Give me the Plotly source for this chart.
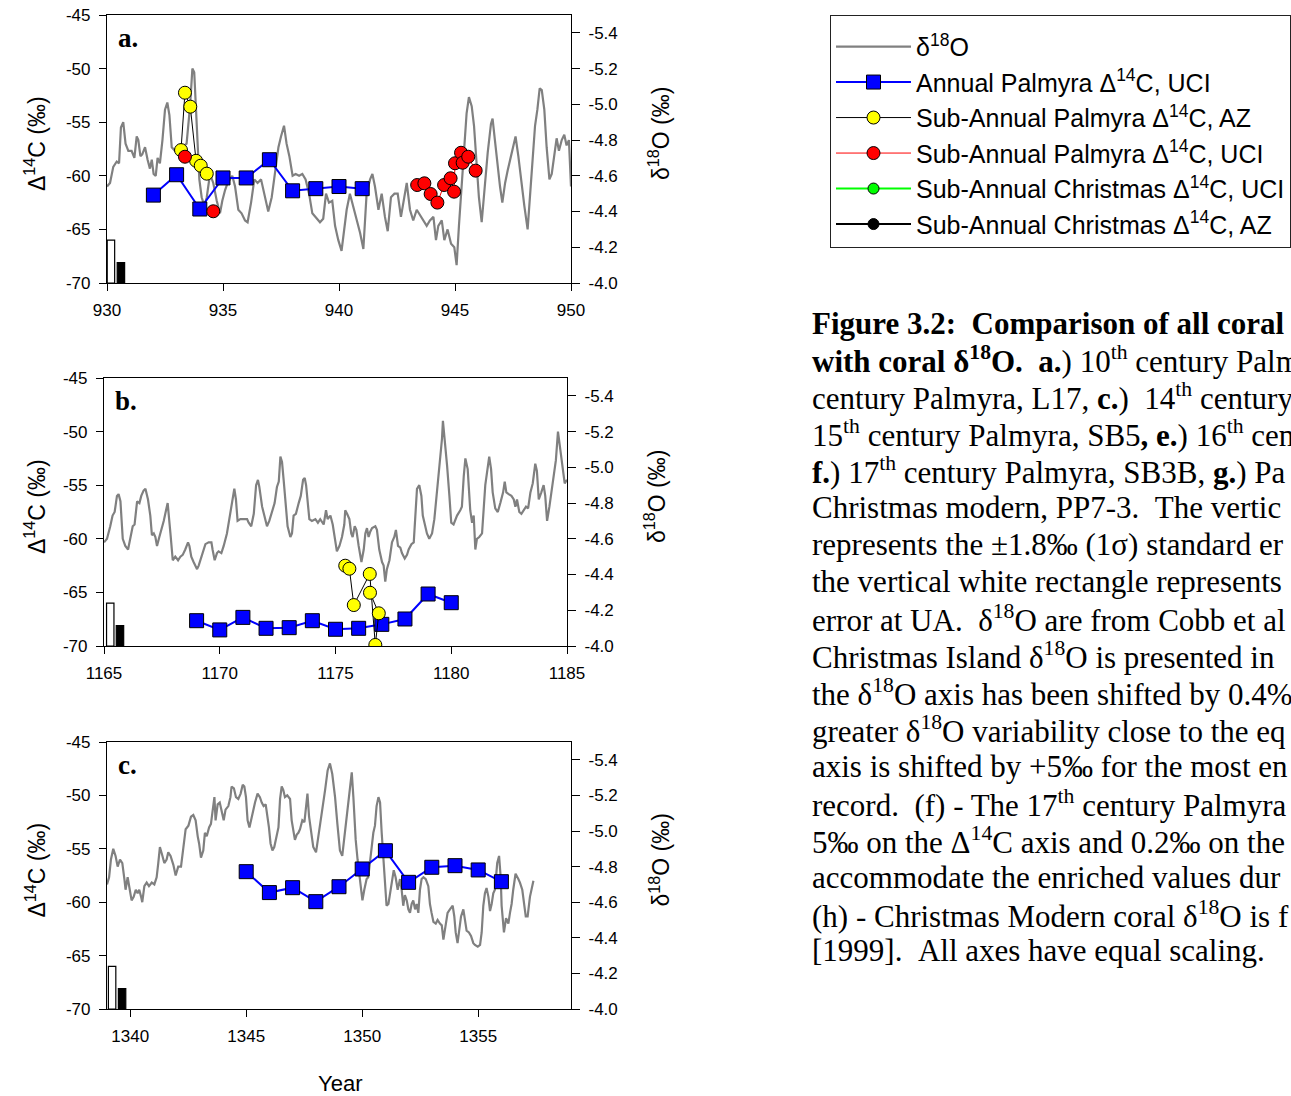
import plotly.graph_objects as go

# ---------------- Panel a: 10th century Palmyra ----------------
a_d18o_year = [930.00, 930.13, 930.27, 930.42, 930.52, 930.60, 930.70, 930.80, 930.92, 931.06,
               931.18, 931.28, 931.35, 931.44, 931.52, 931.64, 931.75, 931.85, 931.93, 932.01,
               932.10, 932.18, 932.28, 932.39, 932.50, 932.60, 932.69, 932.79, 932.93, 933.07,
               933.25, 933.43, 933.58, 933.68, 933.76, 933.86, 933.98, 934.08, 934.20, 934.30,
               934.44, 934.58, 934.73, 934.87, 934.97, 935.09, 935.20, 935.30, 935.40, 935.52,
               935.66, 935.80, 935.95, 936.06, 936.21, 936.35, 936.49, 936.64, 936.78, 936.95,
               937.10, 937.24, 937.39, 937.50, 937.63, 937.74, 937.86, 938.00, 938.13, 938.28,
               938.42, 938.56, 938.71, 938.85, 939.00, 939.18, 939.32, 939.44, 939.57, 939.71,
               939.83, 939.97, 940.11, 940.23, 940.33, 940.47, 940.62, 940.76, 940.91, 941.05,
               941.19, 941.34, 941.44, 941.55, 941.70, 941.84, 941.98, 942.10, 942.24, 942.39,
               942.53, 942.67, 942.82, 942.92, 943.06, 943.20, 943.35, 943.49, 943.64, 943.78,
               943.92, 944.07, 944.18, 944.28, 944.43, 944.54, 944.68, 944.83, 944.97, 945.07,
               945.17, 945.29, 945.40, 945.50, 945.60, 945.72, 945.82, 945.93, 946.03, 946.15,
               946.26, 946.41, 946.55, 946.62, 946.72, 946.84, 946.94, 947.04, 947.16, 947.27,
               947.37, 947.51, 947.61, 947.73, 947.84, 947.99, 948.13, 948.23, 948.33, 948.45,
               948.55, 948.65, 948.74, 948.85, 948.95, 949.07, 949.17, 949.28, 949.38, 949.48,
               949.60, 949.71, 949.81, 949.91, 950.00]
a_d18o = [-4.54, -4.56, -4.65, -4.68, -4.67, -4.87, -4.90, -4.78, -4.74, -4.74,
          -4.70, -4.82, -4.80, -4.71, -4.72, -4.76, -4.69, -4.64, -4.69, -4.61,
          -4.60, -4.70, -4.67, -4.80, -4.97, -5.01, -4.94, -4.76, -4.74, -4.74,
          -4.76, -4.78, -4.99, -5.20, -5.18, -4.89, -4.58, -4.48, -4.43, -4.48,
          -4.61, -4.56, -4.46, -4.39, -4.46, -4.52, -4.56, -4.58, -4.60, -4.54,
          -4.41, -4.39, -4.35, -4.34, -4.45, -4.58, -4.56, -4.58, -4.50, -4.40,
          -4.48, -4.63, -4.76, -4.82, -4.88, -4.78, -4.71, -4.60, -4.61, -4.60,
          -4.61, -4.58, -4.50, -4.39, -4.37, -4.34, -4.36, -4.50, -4.45, -4.46,
          -4.32, -4.24, -4.18, -4.32, -4.41, -4.50, -4.43, -4.35, -4.28, -4.19,
          -4.50, -4.58, -4.61, -4.54, -4.41, -4.50, -4.37, -4.29, -4.48, -4.50,
          -4.50, -4.37, -4.48, -4.56, -4.41, -4.35, -4.41, -4.38, -4.35, -4.32,
          -4.35, -4.37, -4.24, -4.32, -4.35, -4.24, -4.30, -4.22, -4.20, -4.10,
          -4.32, -4.56, -4.80, -4.95, -5.04, -4.99, -4.88, -4.65, -4.48, -4.34,
          -4.52, -4.73, -4.89, -4.92, -4.80, -4.65, -4.54, -4.45, -4.56, -4.63,
          -4.69, -4.76, -4.82, -4.71, -4.58, -4.43, -4.30, -4.48, -4.67, -4.88,
          -4.97, -5.09, -5.08, -4.97, -4.76, -4.58, -4.61, -4.73, -4.81, -4.74,
          -4.80, -4.83, -4.77, -4.80, -4.54]
a_annual_year = [932, 933, 934, 935, 936, 937, 938, 939, 940, 941]
a_annual_d14c = [-61.8, -59.9, -63.1, -60.2, -60.2, -58.5, -61.4, -61.2, -61.0, -61.2]
a_az_year = [933.19, 933.36, 933.59, 933.84, 934.04, 934.30]
a_az_d14c = [-57.6, -52.25, -53.55, -58.6, -59.06, -59.8]
a_uci_year = [933.36, None, 934.58, None, 943.37, 943.68, 943.95, 944.24, 944.53, 944.81,
              944.96, 945.00, 945.26, 945.33, 945.57, 945.89]
a_uci_d14c = [-58.22, None, -63.31, None, -60.86, -60.70, -61.70, -62.50, -60.86, -60.23,
              -61.48, -58.83, -57.85, -58.78, -58.22, -59.52]
a_err_year = [930.17, 930.60]

# ---------------- Panel b: 12th century Palmyra ----------------
b_d18o_year = [1165.00, 1165.13, 1165.27, 1165.37, 1165.46, 1165.56, 1165.63, 1165.71, 1165.81, 1165.92,
               1166.04, 1166.14, 1166.24, 1166.32, 1166.43, 1166.53, 1166.61, 1166.71, 1166.79, 1166.90,
               1167.00, 1167.07, 1167.15, 1167.22, 1167.29, 1167.39, 1167.51, 1167.58, 1167.68, 1167.75,
               1167.87, 1167.97, 1168.08, 1168.20, 1168.30, 1168.40, 1168.51, 1168.63, 1168.69, 1168.77,
               1168.87, 1169.02, 1169.09, 1169.20, 1169.26, 1169.38, 1169.52, 1169.64, 1169.69, 1169.78,
               1169.88, 1169.95, 1170.07, 1170.17, 1170.31, 1170.41, 1170.53, 1170.63, 1170.70, 1170.77,
               1170.89, 1171.03, 1171.18, 1171.25, 1171.36, 1171.47, 1171.57, 1171.65, 1171.71, 1171.83,
               1171.94, 1172.04, 1172.14, 1172.26, 1172.37, 1172.47, 1172.55, 1172.62, 1172.69, 1172.76,
               1172.83, 1172.93, 1173.05, 1173.12, 1173.19, 1173.29, 1173.41, 1173.50, 1173.60, 1173.67,
               1173.73, 1173.81, 1173.87, 1173.98, 1174.13, 1174.24, 1174.34, 1174.49, 1174.59, 1174.66,
               1174.78, 1174.88, 1174.99, 1175.06, 1175.17, 1175.28, 1175.38, 1175.42, 1175.50, 1175.60,
               1175.68, 1175.74, 1175.83, 1175.90, 1176.00, 1176.12, 1176.22, 1176.29, 1176.36, 1176.43,
               1176.50, 1176.58, 1176.72, 1176.79, 1176.89, 1177.01, 1177.08, 1177.15, 1177.22, 1177.33,
               1177.44, 1177.54, 1177.61, 1177.70, 1177.80, 1177.87, 1177.99, 1178.09, 1178.16, 1178.28,
               1178.38, 1178.45, 1178.52, 1178.62, 1178.71, 1178.77, 1178.85, 1178.95, 1179.05, 1179.17,
               1179.27, 1179.38, 1179.49, 1179.60, 1179.64, 1179.72, 1179.82, 1179.92, 1180.00, 1180.10,
               1180.25, 1180.39, 1180.46, 1180.54, 1180.61, 1180.71, 1180.82, 1180.90, 1180.97, 1181.04,
               1181.11, 1181.21, 1181.33, 1181.47, 1181.59, 1181.64, 1181.72, 1181.79, 1181.90, 1182.01,
               1182.12, 1182.24, 1182.31, 1182.38, 1182.48, 1182.60, 1182.70, 1182.77, 1182.84, 1182.94,
               1183.03, 1183.13, 1183.23, 1183.32, 1183.42, 1183.52, 1183.63, 1183.70, 1183.78, 1183.89,
               1183.99, 1184.06, 1184.14, 1184.24, 1184.32, 1184.42, 1184.52, 1184.61, 1184.71, 1184.81,
               1184.90, 1185.00]
b_d18o = [-4.58, -4.60, -4.67, -4.73, -4.75, -4.84, -4.85, -4.81, -4.60, -4.56,
          -4.54, -4.61, -4.67, -4.68, -4.81, -4.80, -4.84, -4.87, -4.88, -4.82,
          -4.73, -4.62, -4.63, -4.61, -4.56, -4.61, -4.66, -4.70, -4.76, -4.80,
          -4.63, -4.48, -4.50, -4.48, -4.50, -4.51, -4.54, -4.58, -4.56, -4.50,
          -4.47, -4.43, -4.45, -4.50, -4.53, -4.57, -4.58, -4.58, -4.54, -4.48,
          -4.52, -4.53, -4.52, -4.56, -4.63, -4.71, -4.78, -4.88, -4.82, -4.70,
          -4.71, -4.71, -4.71, -4.69, -4.67, -4.74, -4.90, -4.93, -4.89, -4.78,
          -4.72, -4.67, -4.70, -4.75, -4.80, -4.89, -4.92, -5.06, -5.03, -4.93,
          -4.80, -4.67, -4.61, -4.63, -4.73, -4.74, -4.80, -4.84, -4.93, -4.94,
          -4.90, -4.76, -4.71, -4.70, -4.71, -4.69, -4.71, -4.68, -4.76, -4.71,
          -4.73, -4.68, -4.58, -4.53, -4.56, -4.61, -4.68, -4.76, -4.74, -4.71,
          -4.63, -4.61, -4.67, -4.65, -4.56, -4.47, -4.54, -4.63, -4.66, -4.61,
          -4.64, -4.66, -4.67, -4.65, -4.54, -4.47, -4.45, -4.36, -4.43, -4.48,
          -4.58, -4.61, -4.65, -4.56, -4.55, -4.52, -4.49, -4.51, -4.54, -4.57,
          -4.58, -4.71, -4.88, -4.90, -4.84, -4.73, -4.69, -4.63, -4.60, -4.63,
          -4.71, -4.86, -5.01, -5.16, -5.26, -5.16, -5.01, -4.84, -4.69, -4.68,
          -4.73, -4.76, -4.78, -4.95, -5.05, -4.99, -4.76, -4.69, -4.73, -4.54,
          -4.60, -4.61, -4.63, -4.90, -5.01, -5.06, -4.99, -4.86, -4.77, -4.75,
          -4.80, -4.86, -4.92, -4.86, -4.85, -4.84, -4.82, -4.78, -4.82, -4.75,
          -4.74, -4.76, -4.78, -4.77, -4.86, -4.91, -5.02, -4.98, -4.82, -4.86,
          -4.90, -4.84, -4.70, -4.78, -4.86, -4.94, -5.04, -5.20, -5.10, -4.97,
          -4.91, -4.93]
b_annual_year = [1169, 1170, 1171, 1172, 1173, 1174, 1175, 1176, 1177, 1178, 1179, 1180]
b_annual_d14c = [-67.64, -68.50, -67.33, -68.35, -68.29, -67.64, -68.44, -68.35, -67.98, -67.48, -65.15, -65.96]
b_az_year = [1175.42, 1175.60, 1175.79, 1176.48, 1176.72, 1176.87, 1176.49]
b_az_d14c = [-62.51, -62.79, -66.18, -63.28, -69.90, -66.95, -65.03]
b_err_year = [1165.27, 1165.69]

# ---------------- Panel c: 14th century Palmyra ----------------
c_d18o_year = [1339.00, 1339.09, 1339.17, 1339.27, 1339.37, 1339.46, 1339.56, 1339.66, 1339.75, 1339.80,
               1339.89, 1339.99, 1340.06, 1340.15, 1340.24, 1340.32, 1340.39, 1340.47, 1340.52, 1340.61,
               1340.71, 1340.81, 1340.93, 1341.04, 1341.14, 1341.21, 1341.28, 1341.39, 1341.47, 1341.57,
               1341.64, 1341.74, 1341.86, 1341.96, 1342.07, 1342.19, 1342.29, 1342.39, 1342.51, 1342.62,
               1342.72, 1342.82, 1342.91, 1342.97, 1343.05, 1343.15, 1343.22, 1343.30, 1343.40, 1343.48,
               1343.54, 1343.63, 1343.68, 1343.77, 1343.86, 1343.94, 1344.03, 1344.11, 1344.23, 1344.32,
               1344.37, 1344.47, 1344.56, 1344.66, 1344.76, 1344.85, 1344.92, 1344.99, 1345.06, 1345.14,
               1345.24, 1345.38, 1345.49, 1345.59, 1345.67, 1345.75, 1345.84, 1345.93, 1345.98, 1346.05,
               1346.13, 1346.21, 1346.31, 1346.39, 1346.46, 1346.53, 1346.60, 1346.67, 1346.77, 1346.89,
               1346.96, 1347.03, 1347.10, 1347.18, 1347.25, 1347.32, 1347.42, 1347.51, 1347.58, 1347.64,
               1347.71, 1347.79, 1347.89, 1348.01, 1348.11, 1348.22, 1348.32, 1348.40, 1348.51, 1348.61,
               1348.71, 1348.83, 1348.93, 1349.04, 1349.14, 1349.23, 1349.33, 1349.43, 1349.55, 1349.62,
               1349.72, 1349.80, 1349.91, 1350.01, 1350.09, 1350.19, 1350.26, 1350.34, 1350.41, 1350.48,
               1350.55, 1350.62, 1350.70, 1350.77, 1350.84, 1350.91, 1350.98, 1351.05, 1351.13, 1351.20,
               1351.27, 1351.36, 1351.44, 1351.53, 1351.63, 1351.70, 1351.77, 1351.84, 1351.92, 1351.99,
               1352.06, 1352.13, 1352.20, 1352.28, 1352.35, 1352.42, 1352.49, 1352.56, 1352.64, 1352.74,
               1352.85, 1352.92, 1352.99, 1353.07, 1353.17, 1353.25, 1353.35, 1353.43, 1353.50, 1353.57,
               1353.68, 1353.78, 1353.90, 1353.97, 1354.03, 1354.11, 1354.19, 1354.26, 1354.36, 1354.43,
               1354.50, 1354.60, 1354.69, 1354.79, 1354.86, 1354.98, 1355.08, 1355.15, 1355.22, 1355.29,
               1355.36, 1355.44, 1355.51, 1355.58, 1355.65, 1355.72, 1355.82, 1355.90, 1355.97, 1356.01,
               1356.11, 1356.20, 1356.30, 1356.37, 1356.44, 1356.51, 1356.61, 1356.73, 1356.80, 1356.90,
               1356.99, 1357.05, 1357.13, 1357.23, 1357.38]
c_d18o = [-4.70, -4.74, -4.84, -4.90, -4.86, -4.80, -4.84, -4.82, -4.73, -4.67,
          -4.74, -4.67, -4.61, -4.63, -4.67, -4.65, -4.67, -4.63, -4.60, -4.69,
          -4.71, -4.69, -4.71, -4.70, -4.74, -4.82, -4.91, -4.86, -4.82, -4.84,
          -4.88, -4.86, -4.81, -4.75, -4.80, -4.80, -4.91, -5.01, -5.03, -5.08,
          -5.09, -5.06, -4.97, -4.93, -4.85, -4.89, -4.99, -4.97, -5.02, -5.04,
          -5.10, -5.19, -5.06, -5.15, -5.16, -5.12, -5.06, -5.12, -5.14, -5.19,
          -5.25, -5.24, -5.19, -5.18, -5.21, -5.26, -5.25, -5.19, -5.06, -5.02,
          -5.08, -5.16, -5.21, -5.19, -5.16, -5.14, -5.15, -5.08, -5.02, -4.93,
          -4.89, -4.91, -4.98, -5.02, -5.18, -5.25, -5.23, -5.19, -5.20, -5.18,
          -5.06, -5.00, -4.95, -4.98, -4.99, -5.01, -5.06, -5.05, -5.12, -5.21,
          -5.08, -5.01, -4.91, -4.88, -4.97, -5.04, -5.14, -5.23, -5.34, -5.38,
          -5.32, -5.19, -5.04, -4.89, -4.86, -4.96, -5.08, -5.21, -5.33, -5.19,
          -4.95, -4.84, -4.71, -4.61, -4.67, -4.73, -4.74, -4.84, -4.93, -4.99,
          -5.03, -5.14, -5.19, -5.16, -4.99, -4.86, -4.71, -4.58, -4.59, -4.65,
          -4.73, -4.78, -4.74, -4.67, -4.73, -4.67, -4.58, -4.64, -4.61, -4.56,
          -4.54, -4.59, -4.61, -4.56, -4.59, -4.54, -4.67, -4.73, -4.74, -4.73,
          -4.69, -4.59, -4.54, -4.49, -4.48, -4.50, -4.48, -4.47, -4.39, -4.46,
          -4.54, -4.56, -4.58, -4.52, -4.43, -4.37, -4.46, -4.52, -4.56, -4.50,
          -4.44, -4.43, -4.41, -4.37, -4.36, -4.35, -4.36, -4.43, -4.58, -4.65,
          -4.68, -4.63, -4.55, -4.59, -4.65, -4.67, -4.82, -4.86, -4.74, -4.58,
          -4.43, -4.51, -4.48, -4.54, -4.59, -4.67, -4.76, -4.73, -4.71, -4.67,
          -4.59, -4.52, -4.52, -4.63, -4.72]
c_annual_year = [1345, 1346, 1347, 1348, 1349, 1350, 1351, 1352, 1353, 1354, 1355, 1356]
c_annual_d14c = [-57.14, -59.10, -58.64, -59.95, -58.55, -56.89, -55.18, -58.14, -56.73, -56.58, -56.98, -58.08]
c_err_year = [1339.22, 1339.65]

# error rectangles (bottom-left of each panel): UA (white) and UCI (black)
err_base = -70.0
err_heights = [4.0, 1.9]
err_colors = ["white", "black"]

# axis settings
d14c_range = [-70, -45]
d14c_ticks = [-70, -65, -60, -55, -50, -45]
d18o_range = [-4.0, -5.5]
d18o_ticks = [-5.4, -5.2, -5.0, -4.8, -4.6, -4.4, -4.2, -4.0]
x_ranges = [[930, 950], [1165, 1185], [1339, 1359]]
x_ticks = [[930, 935, 940, 945, 950], [1165, 1170, 1175, 1180, 1185], [1340, 1345, 1350, 1355]]

W, H = 1291, 1096
FONT = "Liberation Sans"
SERIF = "Liberation Serif"
NB = "\u00a0"

# panel boxes in pixels (left, right, top, bottom)
boxes = [(107, 571, 15, 283), (104, 567, 378, 646), (107, 571, 742, 1009)]

fig = go.Figure()

panels = [
    dict(d_year=a_d18o_year, d=a_d18o, ann_year=a_annual_year, ann=a_annual_d14c,
         az_year=a_az_year, az=a_az_d14c, uci_year=a_uci_year, uci=a_uci_d14c, err=a_err_year),
    dict(d_year=b_d18o_year, d=b_d18o, ann_year=b_annual_year, ann=b_annual_d14c,
         az_year=b_az_year, az=b_az_d14c, uci_year=None, uci=None, err=b_err_year),
    dict(d_year=c_d18o_year, d=c_d18o, ann_year=c_annual_year, ann=c_annual_d14c,
         az_year=None, az=None, uci_year=None, uci=None, err=c_err_year),
]

for i, p in enumerate(panels):
    xa = "x" if i == 0 else f"x{i+1}"
    ya_right = "y" if i == 0 else f"y{i+1}"      # delta18O (main, right)
    ya_left = f"y{i+4}"                          # delta14C (overlay, left)
    first = (i == 0)
    fig.add_trace(go.Scatter(x=p["d_year"], y=p["d"], mode="lines",
                             line=dict(color="#808080", width=2.2),
                             name="δ<sup>18</sup>O", showlegend=first, legendrank=1, legendgroup="g1",
                             xaxis=xa, yaxis=ya_right, hoverinfo="skip"))
    for xv, hv, cv in zip(p["err"], err_heights, err_colors):
        fig.add_trace(go.Bar(x=[xv], y=[hv], base=[err_base], width=[0.32],
                             marker=dict(color=cv, line=dict(color="black", width=1.2)),
                             showlegend=False, xaxis=xa, yaxis=ya_left, hoverinfo="skip"))
    fig.add_trace(go.Scatter(x=p["ann_year"], y=p["ann"], mode="lines+markers",
                             line=dict(color="#0000FF", width=2),
                             marker=dict(symbol="square", size=14, color="#0000FF",
                                         line=dict(color="black", width=1)),
                             name="Annual Palmyra Δ<sup>14</sup>C, UCI", showlegend=first, legendrank=2,
                             legendgroup="g2", xaxis=xa, yaxis=ya_left))
    if p["az_year"] is not None:
        fig.add_trace(go.Scatter(x=p["az_year"], y=p["az"], mode="lines+markers",
                                 line=dict(color="black", width=1),
                                 marker=dict(symbol="circle", size=13, color="#FFFF00",
                                             line=dict(color="black", width=1)),
                                 name="Sub-Annual Palmyra Δ<sup>14</sup>C, AZ", showlegend=first, legendrank=3,
                                 legendgroup="g3", xaxis=xa, yaxis=ya_left))
    if p["uci_year"] is not None:
        fig.add_trace(go.Scatter(x=p["uci_year"], y=p["uci"], mode="lines+markers",
                                 line=dict(color="#FF0000", width=1),
                                 marker=dict(symbol="circle", size=13, color="#FF0000",
                                             line=dict(color="black", width=1)),
                                 name="Sub-Annual Palmyra Δ<sup>14</sup>C, UCI", showlegend=first, legendrank=4,
                                 legendgroup="g4", xaxis=xa, yaxis=ya_left))

# legend-only series (no data in these panels)
fig.add_trace(go.Scatter(x=[None], y=[None], mode="lines+markers",
                         line=dict(color="#00FF00", width=2),
                         marker=dict(symbol="circle", size=11, color="#00FF00", line=dict(color="black", width=1)),
                         name="Sub-Annual Christmas Δ<sup>14</sup>C, UCI", legendrank=5, legendgroup="g5",
                         xaxis="x", yaxis="y4"))
fig.add_trace(go.Scatter(x=[None], y=[None], mode="lines+markers",
                         line=dict(color="black", width=2),
                         marker=dict(symbol="circle", size=11, color="black", line=dict(color="black", width=1)),
                         name="Sub-Annual Christmas Δ<sup>14</sup>C, AZ", legendrank=6, legendgroup="g6",
                         xaxis="x", yaxis="y4"))

tickfont = dict(family=FONT, size=17, color="black")
layout = dict(width=W, height=H, margin=dict(l=0, r=0, t=0, b=0, autoexpand=False),
              paper_bgcolor="white", plot_bgcolor="white", barmode="overlay",
              font=dict(family=FONT, color="black"),
              legend=dict(x=830 / W, y=1 - 15 / H, xanchor="left", yanchor="top",
                          bordercolor="#222", borderwidth=1, bgcolor="white",
                          font=dict(family=FONT, size=25, color="black"),
                          title=dict(text=" ", font=dict(size=6)),
                          itemwidth=75, tracegroupgap=0, traceorder="grouped"),
              annotations=[])

for i, (l, r, t, b) in enumerate(boxes):
    sfx = "" if i == 0 else str(i + 1)
    xd = [l / W, r / W]
    yd = [1 - b / H, 1 - t / H]
    layout[f"xaxis{sfx}"] = dict(domain=xd, anchor=f"y{sfx}", range=x_ranges[i], automargin=False,
                                 tickvals=x_ticks[i], ticktext=[str(v) for v in x_ticks[i]],
                                 ticks="outside", ticklen=7, tickcolor="black",
                                 showline=True, linecolor="black", linewidth=1.2, mirror=True,
                                 showgrid=False, zeroline=False, tickfont=tickfont,
                                 ticklabelstandoff=4)
    layout[f"yaxis{sfx}"] = dict(domain=yd, anchor=f"x{sfx}", side="right", range=d18o_range,
                                 automargin=False,
                                 tickvals=d18o_ticks, ticktext=[f"{v:.1f}" for v in d18o_ticks],
                                 ticks="outside", ticklen=8, tickcolor="black",
                                 showline=True, linecolor="black", linewidth=1.2,
                                 showgrid=False, zeroline=False, tickfont=tickfont,
                                 ticklabelstandoff=5)
    layout[f"yaxis{i+4}"] = dict(overlaying=f"y{sfx}", anchor=f"x{sfx}", side="left", range=d14c_range,
                                 automargin=False,
                                 tickvals=d14c_ticks, ticktext=[str(v) for v in d14c_ticks],
                                 ticks="outside", ticklen=7, tickcolor="black",
                                 showline=True, linecolor="black", linewidth=1.2,
                                 showgrid=False, zeroline=False, tickfont=tickfont,
                                 ticklabelstandoff=5)
    cy = (t + b) / 2
    layout["annotations"] += [
        dict(text="Δ<sup>14</sup>C (‰)", x=35 / W, y=1 - (cy - 5) / H, xref="paper", yref="paper",
             textangle=-90, showarrow=False, font=dict(family=FONT, size=23, color="black"),
             xanchor="center", yanchor="middle"),
        dict(text="δ<sup>18</sup>O (‰)", x=(r + 88) / W, y=1 - (cy - 15) / H, xref="paper", yref="paper",
             textangle=-90, showarrow=False, font=dict(family=FONT, size=23, color="black"),
             xanchor="center", yanchor="middle"),
        dict(text="<b>" + "abc"[i] + ".</b>", x=(l + 9) / W, y=1 - (t + 6) / H, xref="paper", yref="paper",
             showarrow=False, font=dict(family=SERIF, size=27, color="black"),
             xanchor="left", yanchor="top"),
    ]

layout["annotations"].append(
    dict(text="Year", x=340 / W, y=1 - 1083 / H, xref="paper", yref="paper", showarrow=False,
         font=dict(family=FONT, size=22, color="black"), xanchor="center", yanchor="middle",
         borderpad=0))

caption_lines = [
    f"<b>Figure 3.2: {NB}Comparison of all coral</b>",
    f"<b>with coral δ<sup>18</sup>O. {NB}a.</b>) 10<sup>th</sup> century Palm",
    f"century Palmyra, L17, <b>c.</b>) {NB}14<sup>th</sup> century",
    "15<sup>th</sup> century Palmyra, SB5<b>, e.</b>) 16<sup>th</sup> cen",
    "<b>f.</b>) 17<sup>th</sup> century Palmyra, SB3B, <b>g.</b>) Pa",
    f"Christmas modern, PP7-3. {NB}The vertic",
    "represents the ±1.8‰ (1σ) standard er",
    "the vertical white rectangle represents",
    f"error at UA. {NB}δ<sup>18</sup>O are from Cobb et al",
    "Christmas Island δ<sup>18</sup>O is presented in",
    "the δ<sup>18</sup>O axis has been shifted by 0.4%",
    "greater δ<sup>18</sup>O variability close to the eq",
    "axis is shifted by +5‰ for the most en",
    f"record. {NB}(f) - The 17<sup>th</sup> century Palmyra",
    "5‰ on the Δ<sup>14</sup>C axis and 0.2‰ on the",
    "accommodate the enriched values dur",
    "(h) - Christmas Modern coral δ<sup>18</sup>O is f",
    f"[1999]. {NB}All axes have equal scaling.",
]
for k, line in enumerate(caption_lines):
    layout["annotations"].append(
        dict(text=line, x=810 / W, y=1 - (323 + 36.94 * k) / H, xref="paper", yref="paper",
             showarrow=False, align="left", xanchor="left", yanchor="middle",
             font=dict(family=SERIF, size=31, color="black")))

fig.update_layout(**layout)
fig.write_html("out.html", config={"displayModeBar": False},
               post_script="document.body.style.margin='0px';document.body.style.overflow='hidden';")
